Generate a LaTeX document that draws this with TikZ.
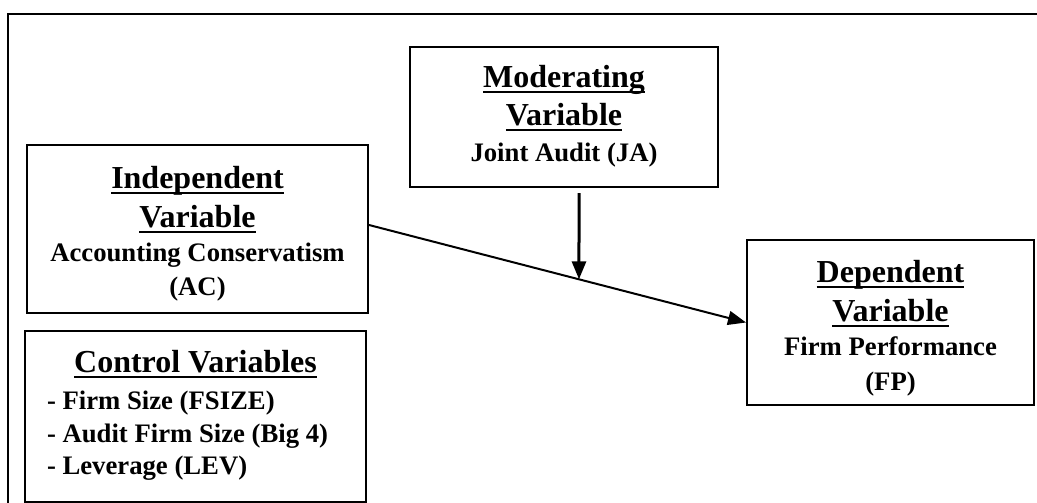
\documentclass[tikz,border=0pt]{standalone}
\usepackage{fontspec}
\setmainfont{Liberation Serif}
\usetikzlibrary{arrows.meta}
\newcommand\myul[1]{\setbox0\hbox{#1}\rlap{\rule[-6.3pt]{\wd0}{2.8pt}}\box0}
\newcommand\ttl[1]{{\fontsize{32}{33}\selectfont\myul{#1}}}
\newcommand\topst[1]{\rule{0pt}{#1}}
\newcommand\botst[1]{\rule[-#1]{0pt}{#1}}
\tikzset{
  box/.style={draw, line width=2pt, inner sep=0pt, align=center,
    font=\bfseries\fontsize{26.7}{33}\selectfont},
  conn/.style={line width=2pt, -{Triangle[length=18pt,width=14pt]}},
  vconn/.style={line width=3pt, -{Triangle[length=18pt,width=14pt]}}
}
\begin{document}
\begin{tikzpicture}[x=1pt,y=-1pt]
\useasboundingbox (0,0) rectangle (1037,503);
\fill[white] (0,0) rectangle (1037,503);
\draw[line width=2pt] (8,503) -- (8,14) -- (1037,14);

\node[box, minimum width=341pt, minimum height=168pt] (indep) at (197.5,229)
  {\topst{35pt}\ttl{Independent}\\[6pt] \ttl{Variable}\\[1pt] Accounting Conservatism\\[1pt] (AC)\botst{10pt}};

\node[box, minimum width=308pt, minimum height=140pt] (mod) at (564,117)
  {\topst{26pt}\ttl{Moderating}\\[5pt] \ttl{Variable}\\[3pt] Joint Audit (JA)\botst{12pt}};

\node[box, minimum width=287pt, minimum height=165pt] (dep) at (890.5,322.5)
  {\topst{37pt}\ttl{Dependent}\\[6pt] \ttl{Variable}\\[1pt] Firm Performance\\[2pt] (FP)\botst{10pt}};

\node[box, minimum width=341pt, minimum height=171pt, align=left] (ctrl) at (195.5,416.5)
  {\topst{24pt}\makebox[297pt][c]{\ttl{Control Variables}}\\[4pt] - Firm Size (FSIZE)\\ - Audit Firm Size (Big 4)\\[-1pt] - Leverage (LEV)\botst{11pt}};

\draw[conn] ([yshift=4pt]indep.east) -- (dep.west) coordinate[pos=0.557] (mid);
\draw[vconn] ([xshift=15pt,yshift=-5pt]mod.south) -- (mid);
\end{tikzpicture}
\end{document}
